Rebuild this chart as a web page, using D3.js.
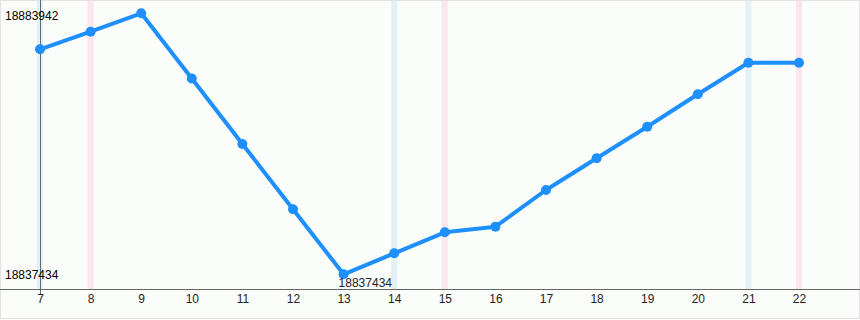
<!DOCTYPE html>
<html>
<head>
<meta charset="utf-8">
<script src="https://cdn.jsdelivr.net/npm/d3@7"></script>
<style>
  body { margin: 0; background: #fff; }
  svg { display: block; font-family: "Liberation Sans Narrow", "Liberation Sans", Arial, sans-serif; }
</style>
</head>
<body>
<div id="chart"></div>
<script>
// day numbers along the x axis
const days = [7, 8, 9, 10, 11, 12, 13, 14, 15, 16, 17, 18, 19, 20, 21, 22];
// value per day
const values = [18877527, 18880663, 18883942, 18872324, 18860652, 18849017, 18837434,
  18841176, 18844918, 18845916, 18852455, 18858104, 18863735, 18869508, 18875139, 18875139];
// highlighted days (blue / pink bands)
const blueDays = [7, 14, 21];
const pinkDays = [8, 15, 22];

const w = 860;
const h = 320;
const axisY = 289;
const font = "Liberation Sans Narrow, Liberation Sans, Arial, sans-serif";

const svg = d3.select("#chart")
  .append("svg")
  .attr("width", w)
  .attr("height", h);

// background + frame
svg.append("rect")
  .attr("x", 0.5).attr("y", 0.5)
  .attr("width", w - 1).attr("height", h - 2)
  .attr("fill", "#fbfdfb")
  .attr("stroke", "#e2e2e2");

const x = d3.scaleLinear()
  .domain([d3.min(days), d3.max(days)])
  .range([40, 799]);

const yMin = d3.min(values), yMax = d3.max(values);
const y = d3.scaleLinear()
  .domain([yMin, yMax])
  .range([274.3, 13.3]);

// bands
const bands = svg.append("g");
bands.selectAll(".blue")
  .data(blueDays)
  .enter()
  .append("rect")
  .attr("x", d => x(d) - 3)
  .attr("y", 1)
  .attr("width", 6)
  .attr("height", axisY - 1)
  .attr("fill", "#e3f1f5");
bands.selectAll(".pink")
  .data(pinkDays)
  .enter()
  .append("rect")
  .attr("x", d => x(d) - 3)
  .attr("y", 1)
  .attr("width", 6)
  .attr("height", axisY - 1)
  .attr("fill", "#fbe6f0");

// left vertical line
svg.append("line")
  .attr("x1", x(days[0]) + 0.5).attr("x2", x(days[0]) + 0.5)
  .attr("y1", 0).attr("y2", axisY + 6)
  .attr("stroke", "#5b6b70")
  .attr("stroke-width", 1);

// x axis
const xAxis = d3.axisBottom(x)
  .tickValues(days)
  .tickSize(0)
  .tickPadding(5)
  .tickFormat(d3.format("d"));

const gx = svg.append("g")
  .attr("transform", "translate(0," + axisY + ")")
  .call(xAxis);
gx.select(".domain").remove();
gx.selectAll("text")
  .attr("font-size", 12)
  .attr("font-family", font)
  .attr("fill", "#222");

svg.append("line")
  .attr("x1", 0).attr("x2", w)
  .attr("y1", axisY + 0.5).attr("y2", axisY + 0.5)
  .attr("stroke", "#666");

// line
const line = d3.line()
  .x((d, i) => x(days[i]))
  .y(d => y(d));

svg.append("path")
  .datum(values)
  .attr("d", line)
  .attr("fill", "none")
  .attr("stroke", "#1e8fff")
  .attr("stroke-width", 4)
  .attr("stroke-linejoin", "round");

svg.append("g")
  .selectAll("circle")
  .data(values)
  .enter()
  .append("circle")
  .attr("cx", (d, i) => x(days[i]))
  .attr("cy", d => y(d))
  .attr("r", 5)
  .attr("fill", "#1e8fff");

// min / max labels
svg.append("text")
  .text(yMax)
  .attr("x", 5)
  .attr("y", y(yMax) + 7)
  .attr("font-size", 12)
  .attr("fill", "#000");

svg.append("text")
  .text(yMin)
  .attr("x", 5)
  .attr("y", y(yMin) + 5)
  .attr("font-size", 12)
  .attr("fill", "#000");

const minIdx = values.indexOf(yMin);
svg.append("text")
  .text(yMin)
  .attr("x", x(days[minIdx]) - 5)
  .attr("y", y(yMin) + 13)
  .attr("font-size", 12)
  .attr("fill", "#222");
</script>
</body>
</html>
